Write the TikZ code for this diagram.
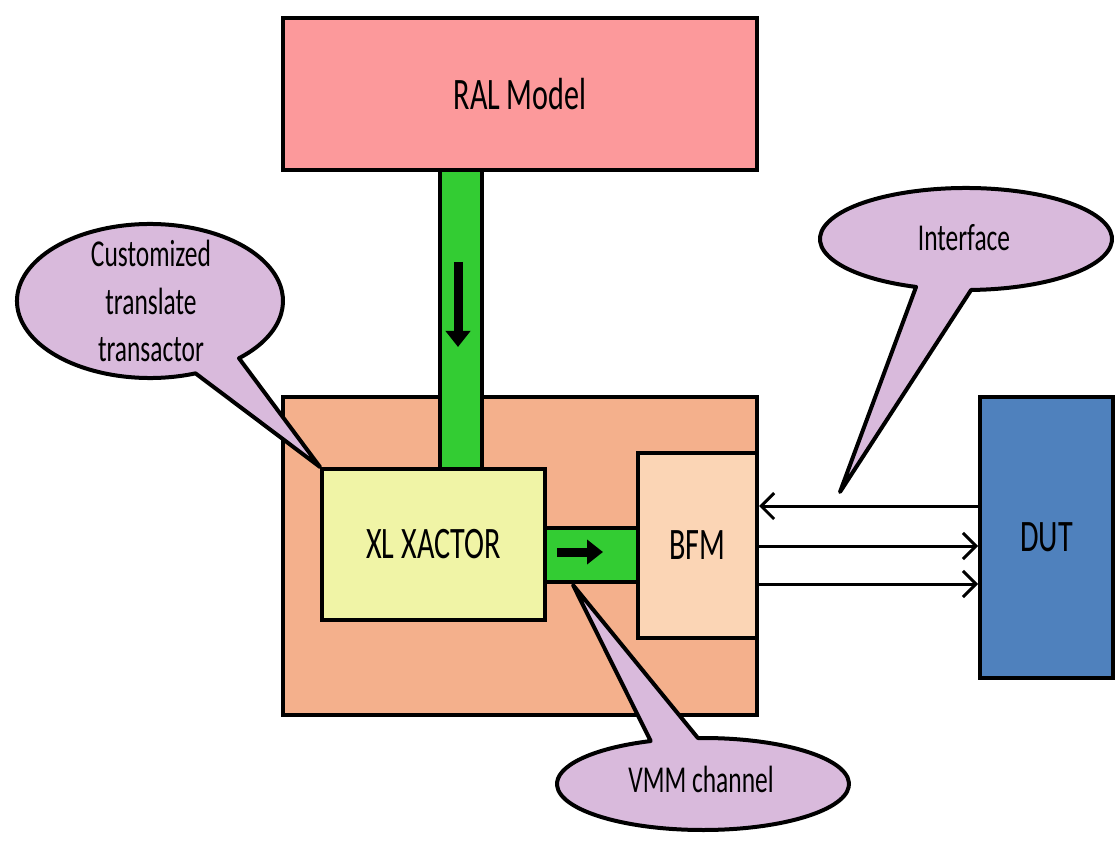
\documentclass[tikz,border=0pt]{standalone}
\usepackage{fontspec}
\setmainfont{Carlito}[FakeStretch=0.67]
\usepackage{tikz}
\usetikzlibrary{arrows.meta, positioning, shapes.geometric}

\definecolor{ralpink}{RGB}{252,153,155}
\definecolor{xactorpeach}{RGB}{244,176,140}
\definecolor{xlyellow}{RGB}{240,244,166}
\definecolor{bfmpeach}{RGB}{251,213,181}
\definecolor{dutblue}{RGB}{79,129,189}
\definecolor{busgreen}{RGB}{51,204,51}
\definecolor{bubblepink}{RGB}{217,186,220}

\begin{document}
\begin{tikzpicture}[x=1pt, y=-1pt,
  box/.style={draw, line width=4pt, fill=#1, inner sep=0pt,
    font=\fontsize{45}{54}\selectfont},
  bus/.style={draw, line width=4pt, fill=busgreen, inner sep=0pt},
  bubble/.style={draw, line width=4pt, fill=bubblepink, line join=round},
  bubbletext/.style={align=center, font=\fontsize{38}{47.5}\selectfont},
  wire/.style={line width=3pt,
    -{Straight Barb[length=13pt, width=26pt, line width=3pt]}},
  flow/.style={line width=9pt, -{Triangle[length=16pt, width=24pt]}},
]
\useasboundingbox (0,0) rectangle (1120,842);

% blocks
\node[box=xactorpeach, minimum width=474pt, minimum height=318pt] (xactor) at (520,556) {};
\node[bus, minimum width=42pt, minimum height=299pt] (ralbus) at (461,319.5) {};
\node[box=ralpink, minimum width=474pt, minimum height=152pt] (ral) at (520,94) {RAL Model};
\node[box=xlyellow, minimum width=223pt, minimum height=151pt] (xl) at (433.5,544.5) {XL XACTOR};
\node[bus, minimum width=93pt, minimum height=54pt] (vmmbus) at (591.5,555) {};
\node[box=bfmpeach, minimum width=119pt, minimum height=185pt] (bfm) at (697.5,545.5) {BFM};
\node[box=dutblue, minimum width=133pt, minimum height=281pt] (dut) at (1046.5,537.5) {DUT};

% arrows inside the green channels
\coordinate (ralflowA) at (458,262);
\coordinate (ralflowB) at (458,347);
\coordinate (vmmflowA) at (557,552);
\coordinate (vmmflowB) at (603,552);
\draw[flow] (ralflowA) -- (ralflowB);
\draw[flow] (vmmflowA) -- (vmmflowB);

% pin wires between BFM and DUT
\coordinate (pinA) at (0,506);
\coordinate (pinB) at (0,546);
\coordinate (pinC) at (0,584);
\draw[wire] (dut.west |- pinA) -- (bfm.east |- pinA);
\draw[wire] (bfm.east |- pinB) -- (dut.west |- pinB);
\draw[wire] (bfm.east |- pinC) -- (dut.west |- pinC);

% callouts
\coordinate (ifacetip) at (840,492);
\coordinate (vmmtip) at (573,585);
\draw[bubble] (150,301) ++(70:133 and 77)
  arc[start angle=70, end angle=408, x radius=133, y radius=77] -- (xl.north west) -- cycle;
\draw[bubble] (966,239) ++(110:146 and 51)
  arc[start angle=110, end angle=448, x radius=146, y radius=51] -- (ifacetip) -- cycle;
\draw[bubble] (703,784) ++(268:146 and 46)
  arc[start angle=268, end angle=609, x radius=146, y radius=46] -- (vmmtip) -- cycle;

\node[bubbletext] (custtext) at (151,301) {Customized\\translate\\transactor};
\node[bubbletext] (ifacetext) at (964,238) {Interface};
\node[bubbletext] (vmmtext) at (701,779) {VMM channel};
\end{tikzpicture}
\end{document}
